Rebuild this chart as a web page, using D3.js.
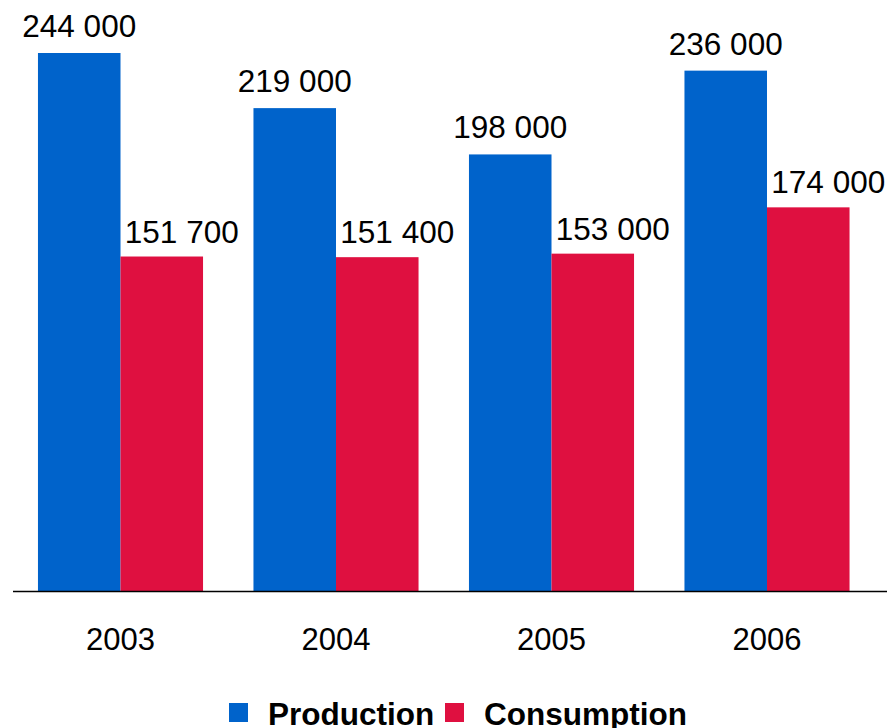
<!DOCTYPE html>
<html>
<head>
<meta charset="utf-8">
<script src="https://cdn.jsdelivr.net/npm/d3@7"></script>
<style>
  html, body { margin: 0; padding: 0; background: #ffffff; }
  svg { display: block; font-family: "Liberation Sans", Arial, sans-serif; }
</style>
</head>
<body>
<svg id="chart" width="891" height="728"></svg>
<script>
// Yearly totals
const years = ["2003", "2004", "2005", "2006"];
const production = [244000, 219000, 198000, 236000];
const consumption = [151700, 151400, 153000, 174000];
const seriesNames = ["Production", "Consumption"];
const seriesColors = ["#0063CB", "#DF1040"];

const W = 891, H = 728;
const baseY = 591;
const topY = 53;

const svg = d3.select("#chart");

const x0 = d3.scaleBand()
  .domain(years)
  .range([12.75, 874.75])
  .paddingInner(0.234)
  .paddingOuter(0.117);

const x1 = d3.scaleBand()
  .domain(seriesNames)
  .range([0, x0.bandwidth()])
  .padding(0);

const y = d3.scaleLinear()
  .domain([0, d3.max(production)])
  .range([baseY, topY]);

const fmt = v => d3.format(",")(v).replace(/,/g, " ");

const rows = years.map((yr, i) => ({
  year: yr,
  values: [
    { key: "Production", value: production[i], color: seriesColors[0], dx: 0, gap: 16 },
    { key: "Consumption", value: consumption[i], color: seriesColors[1], dx: 20, gap: 14 }
  ]
}));

const groups = svg.selectAll("g.year")
  .data(rows)
  .join("g")
  .attr("class", "year")
  .attr("transform", d => `translate(${x0(d.year)},0)`);

groups.selectAll("rect")
  .data(d => d.values)
  .join("rect")
  .attr("x", d => x1(d.key))
  .attr("width", x1.bandwidth())
  .attr("y", d => y(d.value))
  .attr("height", d => baseY - y(d.value))
  .attr("fill", d => d.color);

groups.selectAll("text.val")
  .data(d => d.values)
  .join("text")
  .attr("class", "val")
  .attr("x", d => x1(d.key) + x1.bandwidth() / 2 + d.dx)
  .attr("y", d => y(d.value) - d.gap)
  .attr("text-anchor", "middle")
  .attr("font-size", 31.5)
  .attr("fill", "#000")
  .text(d => fmt(d.value));

// category axis
const axis = d3.axisBottom(x0).tickSize(0).tickPadding(0);
const axG = svg.append("g")
  .attr("transform", `translate(0,${baseY})`)
  .call(axis);
axG.select(".domain").remove();
axG.selectAll("text")
  .attr("font-size", 31)
  .attr("fill", "#000")
  .attr("font-family", "Liberation Sans, Arial, sans-serif")
  .attr("dy", null)
  .attr("y", 59);

svg.append("line")
  .attr("x1", 13).attr("x2", 887)
  .attr("y1", baseY + 0.5).attr("y2", baseY + 0.5)
  .attr("stroke", "#000").attr("stroke-width", 1.5);

// legend
const legend = svg.append("g");
const legendItems = [
  { name: seriesNames[0], color: seriesColors[0], x: 229 },
  { name: seriesNames[1], color: seriesColors[1], x: 445 }
];
legendItems.forEach(it => {
  legend.append("rect")
    .attr("x", it.x).attr("y", 703)
    .attr("width", 19).attr("height", 19)
    .attr("fill", it.color);
  legend.append("text")
    .attr("x", it.x + 39).attr("y", 725)
    .attr("font-size", 31.5)
    .attr("font-weight", "bold")
    .attr("fill", "#000")
    .text(it.name);
});
</script>
</body>
</html>
